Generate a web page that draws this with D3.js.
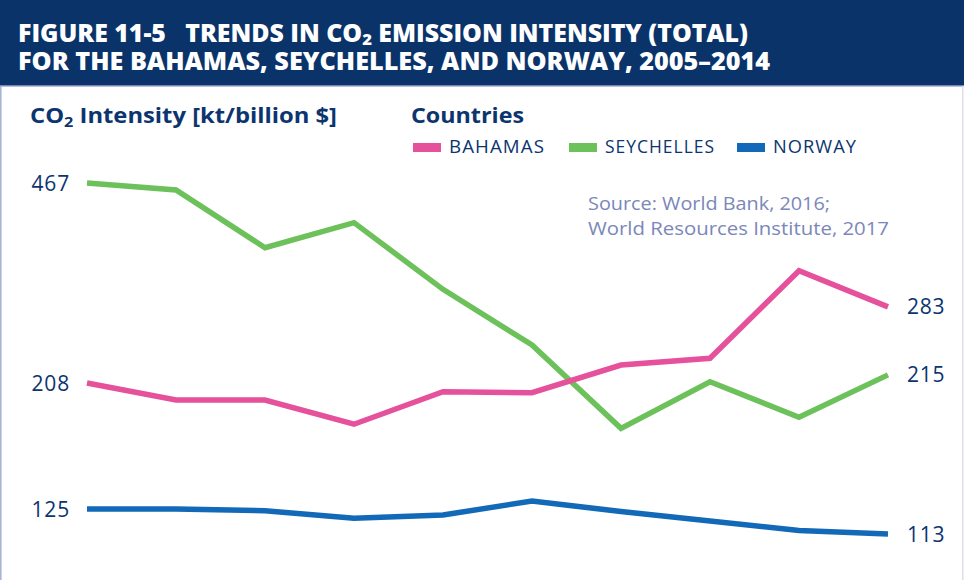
<!DOCTYPE html>
<html>
<head>
<meta charset="utf-8">
<script src="https://cdn.jsdelivr.net/npm/d3@7"></script>
<style>
  html, body { margin: 0; padding: 0; background: #ffffff; }
  svg { display: block; }
  text { white-space: pre; }
</style>
</head>
<body>
<div id="chart"></div>
<script>
// ---- Data ----
const years = [2005, 2006, 2007, 2008, 2009, 2010, 2011, 2012, 2013, 2014];
const bahamas    = [208, 194.2, 194.2, 176.1, 200.8, 200.0, 223.7, 229.9, 327.6, 283];
const seychelles = [467, 454, 359.5, 397.8, 303.8, 242.6, 173.2, 209.1, 181.1, 215];
const norway     = [125, 125, 124.1, 120.4, 122.0, 129.1, 123.7, 119.1, 114.6, 113];
const seriesNames = ["BAHAMAS", "SEYCHELLES", "NORWAY"];
const seriesColors = ["#e5519b", "#6cc15b", "#1269b7"];
const titleLine1 = ["FIGURE 11-5   TRENDS IN CO", "2", " EMISSION INTENSITY (TOTAL)"];
const titleLine2 = "FOR THE BAHAMAS, SEYCHELLES, AND NORWAY, 2005–2014";
const yTitle = ["CO", "2", " Intensity [kt/billion $]"];
const legendTitle = "Countries";
const sourceLines = ["Source: World Bank, 2016;", "World Resources Institute, 2017"];

const W = 964, H = 580;
const navy = "#0c3570";
const headerBg = "#0a336a";

const svg = d3.select("#chart").append("svg")
  .attr("width", W).attr("height", H)
  .style("font-family", "'Open Sans', Lato, sans-serif");

// Frame / borders
svg.append("rect").attr("x", 0).attr("y", 0).attr("width", W).attr("height", 86).attr("fill", headerBg);
svg.append("rect").attr("x", 0).attr("y", 85).attr("width", W).attr("height", 1.5).attr("fill", "#6f86b6");
svg.append("rect").attr("x", 0).attr("y", 86).attr("width", 1.6).attr("height", H - 86).attr("fill", "#a8b5d6");
svg.append("rect").attr("x", 962).attr("y", 86).attr("width", 1.5).attr("height", H - 86).attr("fill", "#dcdfe8");

function fit(sel, width) {
  sel.attr("textLength", width).attr("lengthAdjust", "spacingAndGlyphs");
}

// Header title
const t1 = svg.append("text").attr("x", 18).attr("y", 42)
  .attr("fill", "#ffffff").attr("font-size", 24).attr("font-weight", 800);
t1.append("tspan").text(titleLine1[0]);
t1.append("tspan").attr("font-size", 16).attr("dy", 3).text(titleLine1[1]);
t1.append("tspan").attr("dy", -3).text(titleLine1[2]);
fit(t1, 730);
const t2 = svg.append("text").attr("x", 18).attr("y", 70)
  .attr("fill", "#ffffff").attr("font-size", 24).attr("font-weight", 800)
  .text(titleLine2);
fit(t2, 752);

// Y-axis title
const yt = svg.append("text").attr("x", 30).attr("y", 123)
  .attr("fill", navy).attr("font-size", 22).attr("font-weight", 700);
yt.append("tspan").text(yTitle[0]);
yt.append("tspan").attr("font-size", 15).attr("dy", 4).text(yTitle[1]);
yt.append("tspan").attr("dy", -4).text(yTitle[2]);
fit(yt, 307);

// Legend
const lt = svg.append("text").attr("x", 411).attr("y", 123)
  .attr("fill", navy).attr("font-size", 22).attr("font-weight", 700).text(legendTitle);
fit(lt, 113);
const legendX = [413, 569, 737];
const legendW = [96, 110, 84];
seriesNames.forEach((n, i) => {
  svg.append("rect").attr("x", legendX[i]).attr("y", 143).attr("width", 28).attr("height", 9)
    .attr("fill", seriesColors[i]);
  const tx = svg.append("text").attr("x", legendX[i] + 36).attr("y", 152.5)
    .attr("fill", navy).attr("font-size", 17.5).attr("letter-spacing", 1).text(n);
  fit(tx, legendW[i]);
});

// Source
const s1 = svg.append("text").attr("x", 588).attr("y", 210)
  .attr("fill", "#7b87b8").attr("font-size", 18).text(sourceLines[0]);
fit(s1, 242);
const s2 = svg.append("text").attr("x", 588).attr("y", 235)
  .attr("fill", "#7b87b8").attr("font-size", 18).text(sourceLines[1]);
fit(s2, 301);

// Scales
const x = d3.scaleLinear().domain([2005, 2014]).range([87, 888]);
const y = d3.scaleLog().domain([125, 467]).range([509, 183]);

const line = d3.line().x((d, i) => x(years[i])).y(d => y(d));
const allSeries = [seychelles, bahamas, norway];
const colorsByDraw = [seriesColors[1], seriesColors[0], seriesColors[2]];

allSeries.forEach((s, k) => {
  svg.append("path").datum(s)
    .attr("d", line)
    .attr("fill", "none")
    .attr("stroke", colorsByDraw[k])
    .attr("stroke-width", 5.5)
    .attr("stroke-linejoin", "miter")
    .attr("stroke-linecap", "butt");
});

// End labels
const fmt = d3.format("d");
allSeries.forEach((s) => {
  const first = s[0], last = s[s.length - 1];
  svg.append("text").attr("x", 70).attr("y", y(first))
    .attr("dy", "0.36em").attr("text-anchor", "end")
    .attr("fill", navy).attr("font-size", 21).attr("letter-spacing", 0.8)
    .text(fmt(first));
  svg.append("text").attr("x", 907).attr("y", y(last))
    .attr("dy", "0.36em").attr("text-anchor", "start")
    .attr("fill", navy).attr("font-size", 21).attr("letter-spacing", 0.8)
    .text(fmt(last));
});
</script>
</body>
</html>
